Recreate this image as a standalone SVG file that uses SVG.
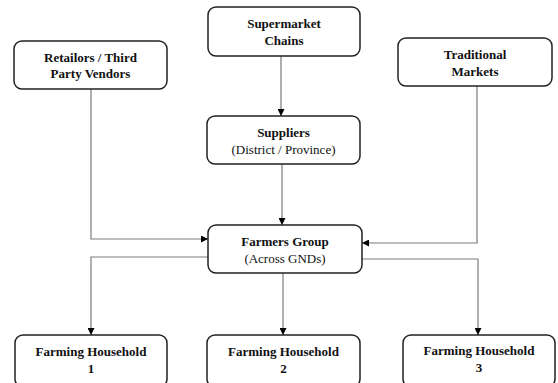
<svg xmlns="http://www.w3.org/2000/svg" width="558" height="383" viewBox="0 0 558 383">
<defs>
<marker id="arr" viewBox="0 0 10 10" refX="10" refY="5" markerWidth="7" markerHeight="7" markerUnits="userSpaceOnUse" orient="auto">
<path d="M0,0 L10,5 L0,10 z" fill="#000"/>
</marker>
<style>
.box{fill:#fff;stroke:#222;stroke-width:1.5}
.t{font-family:"Liberation Serif","Times New Roman",serif;font-size:13px;fill:#111;text-anchor:middle}
.b{font-weight:bold}
.c{fill:none;stroke:#7a7a7a;stroke-width:1.2}
</style>
</defs>
<rect width="558" height="383" fill="#fff"/>
<g id="connectors">
<path class="c" d="M281,56 V116" marker-end="url(#arr)"/>
<path class="c" d="M282,164 V225" marker-end="url(#arr)"/>
<path class="c" d="M91,89 V239 H208" marker-end="url(#arr)"/>
<path class="c" d="M477,86 V243 H362" marker-end="url(#arr)"/>
<path class="c" d="M208,257 H91 V335" marker-end="url(#arr)"/>
<path class="c" d="M283,273 V335" marker-end="url(#arr)"/>
<path class="c" d="M362,259 H478 V335" marker-end="url(#arr)"/>
</g>
<g id="retailers">
<rect class="box" x="14" y="41" width="153" height="48" rx="8"/>
<text class="t b" x="90.5" y="62">Retailors / Third</text>
<text class="t b" x="90.5" y="78">Party Vendors</text>
</g>
<g id="supermarket">
<rect class="box" x="208" y="7" width="152" height="49" rx="8"/>
<text class="t b" x="284" y="28">Supermarket</text>
<text class="t b" x="284" y="45">Chains</text>
</g>
<g id="traditional">
<rect class="box" x="398" y="38" width="154" height="48" rx="8"/>
<text class="t b" x="475" y="59">Traditional</text>
<text class="t b" x="475" y="76">Markets</text>
</g>
<g id="suppliers">
<rect class="box" x="207" y="116" width="153" height="48" rx="8"/>
<text class="t b" x="283.5" y="137">Suppliers</text>
<text class="t" x="283.5" y="154">(District / Province)</text>
</g>
<g id="farmers">
<rect class="box" x="208" y="225" width="154" height="48" rx="8"/>
<text class="t b" x="285" y="246">Farmers Group</text>
<text class="t" x="285" y="263">(Across GNDs)</text>
</g>
<g id="hh1">
<rect class="box" x="15" y="335" width="152" height="52" rx="8"/>
<text class="t b" x="91" y="356">Farming Household</text>
<text class="t b" x="91" y="373">1</text>
</g>
<g id="hh2">
<rect class="box" x="207" y="335" width="153" height="52" rx="8"/>
<text class="t b" x="283.5" y="356">Farming Household</text>
<text class="t b" x="283.5" y="373">2</text>
</g>
<g id="hh3">
<rect class="box" x="403" y="335" width="152" height="52" rx="8"/>
<text class="t b" x="479" y="355">Farming Household</text>
<text class="t b" x="479" y="372">3</text>
</g>
</svg>
